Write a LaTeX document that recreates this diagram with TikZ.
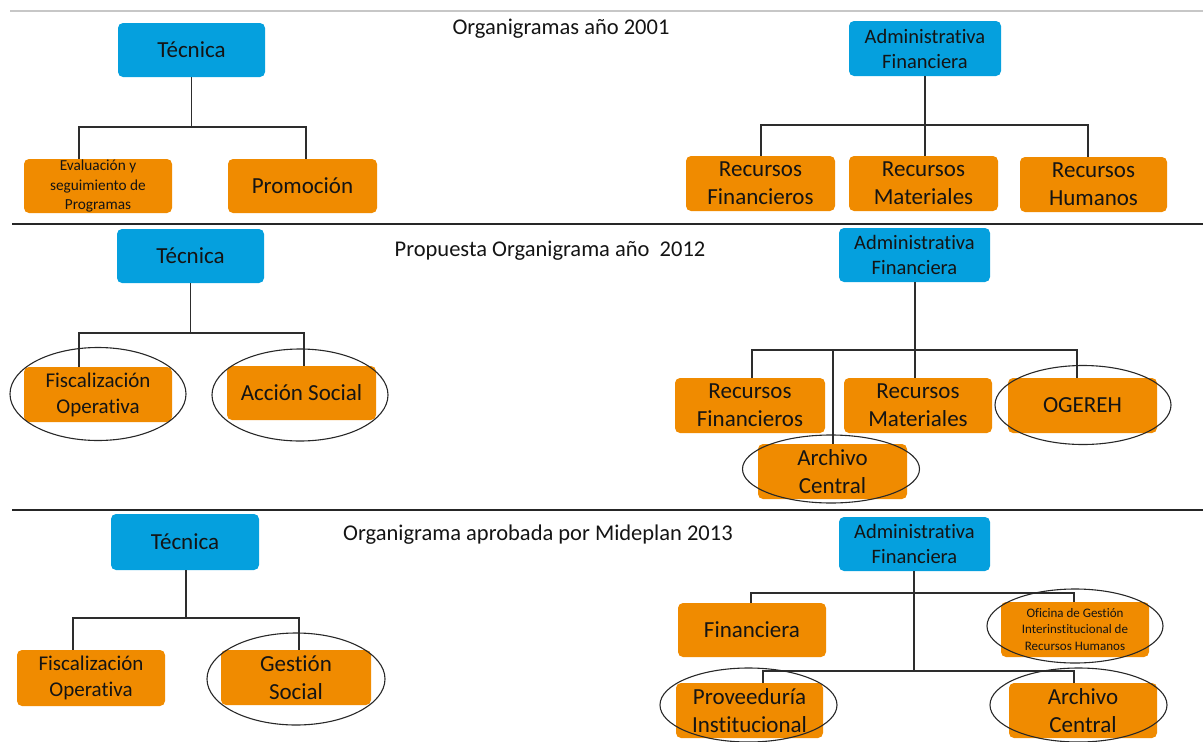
\documentclass[tikz,border=0pt]{standalone}
\usepackage{fontspec}
\setmainfont{Carlito}[Ligatures=NoCommon]
\usetikzlibrary{shapes.geometric}
\definecolor{cblue}{RGB}{5,160,222}
\definecolor{corange}{RGB}{240,139,0}
\definecolor{txt}{RGB}{20,20,20}
\definecolor{linec}{RGB}{45,45,45}
\definecolor{ringc}{RGB}{40,40,40}
\newcommand\fsBig{\fontsize{23}{28}\selectfont}
\newcommand\fsAdm{\fontsize{20.5}{25}\selectfont}
\newcommand\fsMid{\fontsize{21}{26}\selectfont}
\newcommand\fsSmall{\fontsize{15.3}{19.5}\selectfont}
\newcommand\fsTiny{\fontsize{13}{16.5}\selectfont}
\begin{document}
\begin{tikzpicture}[x=1pt,y=-1pt,
  box/.style={rounded corners=5pt, inner sep=0pt, align=center, text=txt},
  bbox/.style={box, fill=cblue},
  obox/.style={box, fill=corange},
  ring/.style={ellipse, draw=ringc, line width=1.1pt, inner sep=0pt},
  link/.style={draw=linec, line width=1.3pt},
  sep/.style={line width=1.5pt},
  title/.style={font=\fontsize{22.5}{27}\selectfont, text=txt, inner sep=0pt}]
\useasboundingbox (0,0) rectangle (1203,742);

% section separators
\coordinate (s0a) at (10,11);   \coordinate (s0b) at (1203,11);
\coordinate (s1a) at (12,224);  \coordinate (s1b) at (1203,224);
\coordinate (s2a) at (12,510);  \coordinate (s2b) at (1203,510);
\draw[sep, draw=black!22] (s0a) -- (s0b);
\draw[sep, draw=black!85] (s1a) -- (s1b);
\draw[sep, draw=black!85] (s2a) -- (s2b);

% ---------------- 2001 ----------------
\node[title] (tA) at (561,29) {Organigramas año 2001};
\node[bbox, minimum width=147pt, minimum height=54pt, font=\fsBig] (tecA) at (191.5,50) {Técnica};
\node[obox, minimum width=148pt, minimum height=54pt, font=\fsSmall] (eva) at (98,186) {Evaluación y\\seguimiento de\\Programas};
\node[obox, minimum width=149pt, minimum height=54pt, font=\fsBig] (pro) at (302.5,186) {Promoción};
\coordinate (hA1) at (79,127); \coordinate (hA2) at (306,127);
\draw[link] (tecA.south) -- (tecA.south |- hA1);
\draw[link] (hA1 |- eva.north) -- (hA1) -- (hA2) -- (hA2 |- pro.north);

\node[bbox, minimum width=152pt, minimum height=55pt, font=\fsAdm] (admA) at (925,48.5) {Administrativa\\Financiera};
\node[obox, minimum width=149pt, minimum height=55pt, font=\fsBig] (rfA) at (760.5,183.5) {Recursos\\Financieros};
\node[obox, minimum width=149pt, minimum height=55pt, font=\fsBig] (rmA) at (923.5,183.5) {Recursos\\Materiales};
\node[obox, minimum width=147pt, minimum height=55pt, font=\fsBig] (rhA) at (1093.5,184.5) {Recursos\\Humanos};
\coordinate (hB1) at (761,125); \coordinate (hB2) at (1088,125);
\draw[link] (admA.south) -- (admA.south |- rmA.north);
\draw[link] (hB1 |- rfA.north) -- (hB1) -- (hB2) -- (hB2 |- rhA.north);

% ---------------- 2012 ----------------
\node[title] (tB) at (550,251) {Propuesta Organigrama año\ \ 2012};
\node[bbox, minimum width=147pt, minimum height=54pt, font=\fsBig] (tecB) at (190.5,256) {Técnica};
\node[obox, minimum width=148pt, minimum height=55pt, font=\fsMid] (fisB) at (98,394.5) {Fiscalización\\Operativa};
\node[obox, minimum width=149pt, minimum height=54pt, font=\fsBig] (accB) at (301.5,393) {Acción Social};
\coordinate (hC1) at (79,333); \coordinate (hC2) at (304,333);
\draw[link] (tecB.south) -- (tecB.south |- hC1);
\draw[link] (hC1 |- fisB.north) -- (hC1) -- (hC2) -- (hC2 |- accB.north);
\node[ring, minimum width=176pt, minimum height=93pt] (fisBr) at (98,394) {};
\node[ring, minimum width=176pt, minimum height=92pt] (accBr) at (300,395) {};

\node[bbox, minimum width=151pt, minimum height=54pt, font=\fsAdm] (admB) at (914.5,255) {Administrativa\\Financiera};
\node[obox, minimum width=150pt, minimum height=55pt, font=\fsBig] (rfB) at (750,405.5) {Recursos\\Financieros};
\node[obox, minimum width=148pt, minimum height=55pt, font=\fsBig] (rmB) at (918,405.5) {Recursos\\Materiales};
\node[obox, minimum width=149pt, minimum height=55pt, font=\fsBig] (ogB) at (1082.5,405.5) {OGEREH};
\node[obox, minimum width=149pt, minimum height=55pt, font=\fsBig] (arB) at (832.5,471.5) {Archivo\\Central};
\coordinate (hD1) at (752,350); \coordinate (hD2) at (1077,350);
\coordinate (hD3) at (833,350); \coordinate (hD4) at (915,350);
\draw[link] (admB.south -| hD4) -- (hD4 |- rmB.north);
\draw[link] (hD1 |- rfB.north) -- (hD1) -- (hD2) -- (hD2 |- ogB.north);
\draw[link] (hD3) -- (hD3 |- arB.north);
\node[ring, minimum width=176pt, minimum height=79pt] (ogBr) at (1083,405) {};
\node[ring, minimum width=177pt, minimum height=68pt] (arBr) at (831,469) {};

% ---------------- 2013 ----------------
\node[title] (tC) at (538,535) {Organigrama aprobada por Mideplan 2013};
\node[bbox, minimum width=148pt, minimum height=56pt, font=\fsBig] (tecC) at (185,542) {Técnica};
\node[obox, minimum width=148pt, minimum height=56pt, font=\fsMid] (fisC) at (91,678) {Fiscalización\\Operativa};
\node[obox, minimum width=150pt, minimum height=55pt, font=\fsBig] (gesC) at (296,677.5) {Gestión\\Social};
\coordinate (hE1) at (73,618); \coordinate (hE2) at (299,618);
\coordinate (hE0) at (186,618);
\draw[link] (tecC.south -| hE0) -- (hE0);
\draw[link] (hE1 |- fisC.north) -- (hE1) -- (hE2) -- (hE2 |- gesC.north);
\node[ring, minimum width=178pt, minimum height=92pt] (gesCr) at (296,679) {};

\node[bbox, minimum width=151pt, minimum height=54pt, font=\fsAdm] (admC) at (914.5,544) {Administrativa\\Financiera};
\node[obox, minimum width=148pt, minimum height=54pt, font=\fsBig] (finC) at (752,630) {Financiera};
\node[obox, minimum width=148pt, minimum height=55pt, font=\fsTiny] (ofC) at (1075,629.5) {Oficina de Gestión\\Interinstitucional de\\Recursos Humanos};
\node[obox, minimum width=147pt, minimum height=55pt, font=\fsBig] (provC) at (749.5,710.5) {Proveeduría\\Institucional};
\node[obox, minimum width=148pt, minimum height=55pt, font=\fsBig] (arC) at (1083,710.5) {Archivo\\Central};
\coordinate (hF1) at (751,593); \coordinate (hF2) at (1074,593);
\coordinate (hG1) at (763,671); \coordinate (hG2) at (1074,671);
\coordinate (hG0) at (914,671);
\draw[link] (admC.south -| hG0) -- (hG0);
\draw[link] (hF1 |- finC.north) -- (hF1) -- (hF2) -- (hF2 |- ofC.north);
\draw[link] (hG1 |- provC.north) -- (hG1) -- (hG2) -- (hG2 |- arC.north);
\node[ring, minimum width=176pt, minimum height=74pt] (ofCr) at (1075,626) {};
\node[ring, minimum width=177pt, minimum height=74pt] (provCr) at (748.5,705) {};
\node[ring, minimum width=177pt, minimum height=74pt] (arCr) at (1078.5,705) {};
\end{tikzpicture}
\end{document}
